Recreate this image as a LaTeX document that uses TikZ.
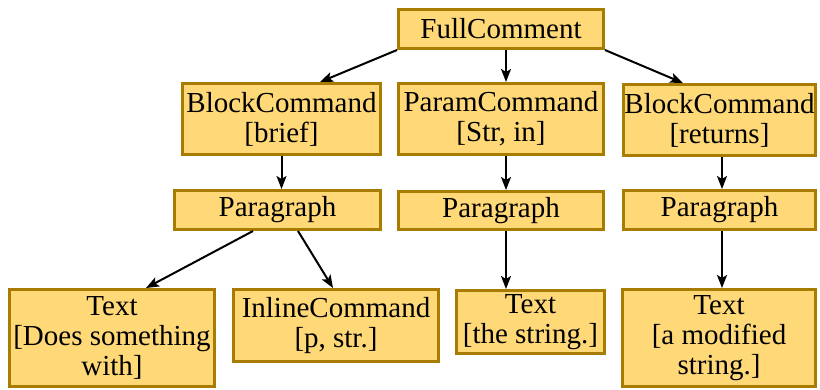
\documentclass[tikz,border=0pt]{standalone}
\usepackage{fontspec}
\setmainfont{Liberation Serif}
\usetikzlibrary{arrows.meta,calc}
\definecolor{boxfill}{RGB}{255,217,120}
\definecolor{boxline}{RGB}{168,124,0}
\begin{document}
\begin{tikzpicture}[x=1pt,y=-1pt,
  box/.style={draw=boxline,fill=boxfill,line width=3pt,inner sep=0pt,align=center,font=\fontsize{29}{30}\selectfont},
  edge/.style={line width=2pt,-{Stealth[length=13pt,width=10pt,inset=3pt]}}]
\useasboundingbox (0,0) rectangle (820,389);
\node[box,minimum width=205pt,minimum height=39pt] (full) at (501,29) {FullComment};
\node[box,minimum width=198pt,minimum height=71pt] (bb) at (281.5,119) {BlockCommand\\{[brief]}};
\node[box,minimum width=205pt,minimum height=71pt] (pc) at (501,119) {ParamCommand\\{[Str, in]}};
\node[box,minimum width=192pt,minimum height=71pt] (br) at (719.5,120) {BlockCommand\\{[returns]}};
\node[box,minimum width=206pt,minimum height=39pt] (p1) at (277.5,210) {Paragraph};
\node[box,minimum width=205pt,minimum height=38pt] (p2) at (501,210.5) {Paragraph};
\node[box,minimum width=192pt,minimum height=39pt] (p3) at (719.5,210) {Paragraph};
\node[box,minimum width=205pt,minimum height=97pt] (t1) at (112,338) {Text\\{[Does something}\\with]};
\node[box,minimum width=205pt,minimum height=72pt] (ic) at (336,325.5) {InlineCommand\\{[p, str.]}};
\node[box,minimum width=148pt,minimum height=63pt] (t2) at (530.5,322) {Text\\{[the string.]}};
\node[box,minimum width=193pt,minimum height=97pt] (t3) at (719,338) {Text\\{[a modified}\\string.]};
\draw[edge] (full.south west) -- ([xshift=38.5pt]bb.north);
\draw[edge] ([xshift=5pt]full.south) -- ([xshift=5pt]pc.north);
\draw[edge] (full.south east) -- ([xshift=-36.5pt]br.north);
\draw[edge] (bb.south) -- (bb.south |- p1.north);
\draw[edge] ([xshift=5pt]pc.south) -- ([xshift=5pt]p2.north);
\draw[edge] ([xshift=2.5pt]br.south) -- ([xshift=2.5pt]p3.north);
\draw[edge] ([xshift=-24.5pt]p1.south) -- ([xshift=34pt]t1.north);
\draw[edge] ([xshift=20.5pt]p1.south) -- ([xshift=-3pt]ic.north);
\draw[edge] ([xshift=5pt]p2.south) -- ([xshift=5pt]p2.south |- t2.north);
\draw[edge] ([xshift=2.5pt]p3.south) -- ([xshift=2.5pt]p3.south |- t3.north);
\end{tikzpicture}
\end{document}
